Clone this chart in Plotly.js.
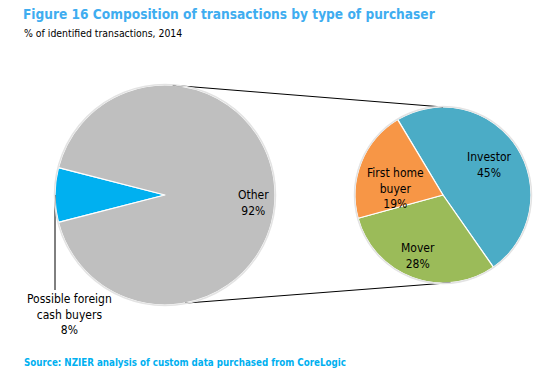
<!DOCTYPE html>
<html><head><meta charset="utf-8">
<script src="https://cdn.plot.ly/plotly-3.0.1.min.js"></script>
<style>html,body{margin:0;padding:0;background:#fff}#chart{width:550px;height:380px}</style>
</head><body><div id="chart"></div>
<script>
// Data
const mainLabels = ["Possible foreign cash buyers", "Other"];
const mainText = ["Possible foreign<br>cash buyers<br>8%", "Other<br>92%"];
const mainValues = [8, 92];
const subLabels = ["Investor", "Mover", "First home buyer"];
const subText = ["Investor<br>45%", "Mover<br>28%", "First home<br>buyer<br>19%"];
const subValues = [45, 28, 19];

const W = 550, H = 380;
const bigDom = {x: [0.1, 0.5], y: [1 - 305 / 380, 1 - 85 / 380]};
const smallDom = {x: [355 / 550, 531 / 550], y: [1 - 283 / 380, 1 - 107 / 380]};

const font = "'DejaVu Sans Condensed', 'DejaVu Sans', sans-serif";
const textFont = {family: "'DejaVu Sans Condensed', 'DejaVu Sans', sans-serif", size: 12, color: "#000"};

const subRotation = -31;
const traces = [
  {
    type: "pie", labels: mainLabels, values: mainValues, sort: false,
    direction: "clockwise", rotation: 270 - 8 / 100 * 180,
    domain: bigDom, textinfo: "none", hoverinfo: "label+value",
    marker: {colors: ["#00b0f0", "#bfbfbf"], line: {color: "#ffffff", width: 1.2}},
    showlegend: false
  },
  {
    type: "pie", labels: subLabels, values: subValues, sort: false,
    direction: "clockwise", rotation: subRotation,
    domain: smallDom, textinfo: "none",
    marker: {colors: ["#4bacc6", "#9bbb59", "#f79646"], line: {color: "#ffffff", width: 1.2}},
    showlegend: false
  }
];

// geometry helpers (pixel space)
function geo(d) {
  const x0 = d.x[0] * W, x1 = d.x[1] * W, y0 = (1 - d.y[1]) * H, y1 = (1 - d.y[0]) * H;
  return {cx: (x0 + x1) / 2, cy: (y0 + y1) / 2, r: Math.min(x1 - x0, y1 - y0) / 2};
}
const gb = geo(bigDom), gs = geo(smallDom);
function pt(g, degCw, rr) { const a = degCw * Math.PI / 180; return [g.cx + rr * g.r * Math.sin(a), g.cy - rr * g.r * Math.cos(a)]; }
const px = (x) => x / W, py = (y) => 1 - y / H;

const tA = pt(gb, 4, 1.0), tB = pt(gs, 0, 1.0);
const bA = pt(gb, 169.5, 1.0), bB = pt(gs, 175, 1.0);
const leadTop = pt(gb, 270, 1.0);

const shapes = [
  {type: "line", xref: "paper", yref: "paper", x0: px(tA[0]), y0: py(tA[1]), x1: px(tB[0]), y1: py(tB[1]), line: {color: "#000", width: 1}},
  {type: "line", xref: "paper", yref: "paper", x0: px(bA[0]), y0: py(bA[1]), x1: px(bB[0]), y1: py(bB[1]), line: {color: "#000", width: 1}},
  {type: "line", xref: "paper", yref: "paper", x0: px(leadTop[0]), y0: py(leadTop[1]), x1: px(leadTop[0]), y1: py(290), line: {color: "#000", width: 1}},
  {type: "circle", xref: "paper", yref: "paper", x0: px(gb.cx - gb.r - 0.5), x1: px(gb.cx + gb.r + 0.5), y0: py(gb.cy - gb.r - 0.5), y1: py(gb.cy + gb.r + 0.5), line: {color: "#e3e3e3", width: 1.5}, layer: "above"},
  {type: "circle", xref: "paper", yref: "paper", x0: px(gs.cx - gs.r - 0.5), x1: px(gs.cx + gs.r + 0.5), y0: py(gs.cy - gs.r - 0.5), y1: py(gs.cy + gs.r + 0.5), line: {color: "#e3e3e3", width: 1.5}, layer: "above"}
];

// label placement for small pie slices: [angle offset within slice (fraction), radius fraction]
const subLabelPos = [[0.5, 0.63], [0.52, 0.75], [0.31, 0.54]];
const subTotal = subValues.reduce((a, b) => a + b, 0);
const subAnn = [];
let acc = subRotation;
subValues.forEach((v, i) => {
  const span = v / subTotal * 360;
  const mid = acc + span * subLabelPos[i][0];
  acc += span;
  const p = pt(gs, mid, subLabelPos[i][1]);
  subAnn.push({xref: "paper", yref: "paper", x: px(p[0]), y: py(p[1]), xanchor: "center", yanchor: "middle",
    showarrow: false, text: subText[i], font: textFont});
});

const annotations = [
  {xref: "paper", yref: "paper", x: px(21), y: py(14), xanchor: "left", yanchor: "middle", showarrow: false,
   text: "<b>Figure 16 Composition of transactions by type of purchaser</b>", font: {family: font, size: 13.6, color: "#3fadf0"}},
  {xref: "paper", yref: "paper", x: px(22), y: py(33), xanchor: "left", yanchor: "middle", showarrow: false,
   text: "% of identified transactions, 2014", font: {family: font, size: 10.4, color: "#000"}},
  {xref: "paper", yref: "paper", x: px(22), y: py(362), xanchor: "left", yanchor: "middle", showarrow: false,
   text: "<b>Source: NZIER analysis of custom data purchased from CoreLogic</b>", font: {family: font, size: 9.7, color: "#00b0f0"}},
  {xref: "paper", yref: "paper", x: px(253), y: py(203), xanchor: "center", yanchor: "middle", showarrow: false,
   text: mainText[1], font: textFont},
  {xref: "paper", yref: "paper", x: px(69), y: py(314), xanchor: "center", yanchor: "middle", showarrow: false,
   text: mainText[0], font: textFont}
].concat(subAnn);

Plotly.newPlot("chart", traces, {
  width: W, height: H, margin: {l: 0, r: 0, t: 0, b: 0},
  paper_bgcolor: "#fff", shapes: shapes, annotations: annotations
}, {displayModeBar: false, staticPlot: true});
</script></body></html>
